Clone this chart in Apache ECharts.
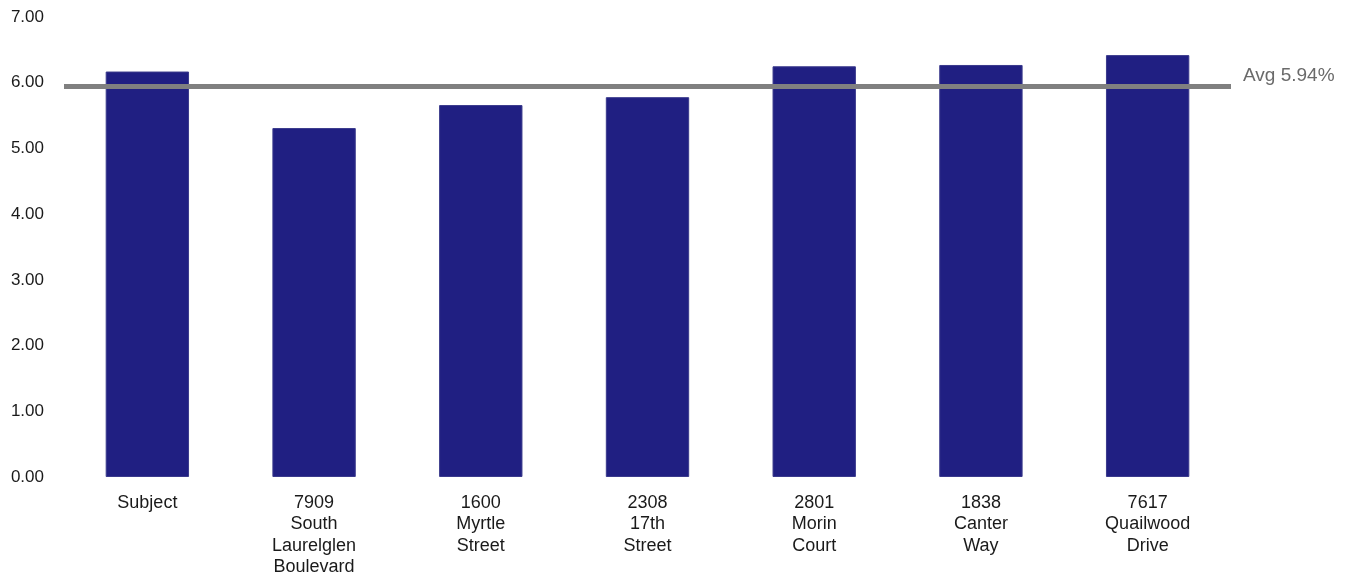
<!DOCTYPE html>
<html>
<head>
<meta charset="utf-8">
<script src="https://cdn.jsdelivr.net/npm/echarts@6/dist/echarts.min.js"></script>
<style>
  html, body { margin: 0; padding: 0; background: #ffffff; }
  #chart { width: 1351px; height: 579px; }
</style>
</head>
<body>
<div id="chart"></div>
<script>
// Property names, one per bar
const categories = [
  'Subject',
  '7909\nSouth\nLaurelglen\nBoulevard',
  '1600\nMyrtle\nStreet',
  '2308\n17th\nStreet',
  '2801\nMorin\nCourt',
  '1838\nCanter\nWay',
  '7617\nQuailwood\nDrive'
];
// Rate per property (%)
const rates = [6.17, 5.31, 5.66, 5.78, 6.25, 6.27, 6.42];
// Average reference line
const averageRate = 5.94;
const averageLabel = 'Avg 5.94%';

const chart = echarts.init(document.getElementById('chart'));
const textFont = '"Liberation Sans", Arial, Helvetica, sans-serif';

chart.setOption({
  animation: false,
  grid: { left: 64, right: 120, top: 17, bottom: 102, containLabel: false },
  xAxis: {
    type: 'category',
    data: categories,
    axisLine: { show: false },
    axisTick: { show: false },
    axisLabel: {
      color: '#1a1a1a',
      fontFamily: textFont,
      fontSize: 18,
      lineHeight: 21.5,
      margin: 15,
      interval: 0
    }
  },
  yAxis: {
    type: 'value',
    min: 0,
    max: 7,
    interval: 1,
    axisLine: { show: false },
    axisTick: { show: false },
    splitLine: { show: false },
    axisLabel: {
      color: '#1a1a1a',
      fontFamily: textFont,
      fontSize: 17,
      margin: 20,
      formatter: v => v.toFixed(2)
    }
  },
  series: [{
    type: 'bar',
    data: rates,
    barWidth: '50%',
    itemStyle: {
      color: '#201f82',
      borderColor: '#3a3a8c',
      borderWidth: 1
    },
    markLine: {
      silent: true,
      symbol: ['none', 'none'],
      data: [{ yAxis: averageRate }],
      lineStyle: { color: '#808080', width: 5, type: 'solid' },
      label: {
        show: true,
        position: 'end',
        formatter: averageLabel,
        color: '#6a6a6a',
        fontFamily: textFont,
        fontSize: 19,
        distance: 12,
        offset: [0, -11]
      }
    }
  }]
});
</script>
</body>
</html>
